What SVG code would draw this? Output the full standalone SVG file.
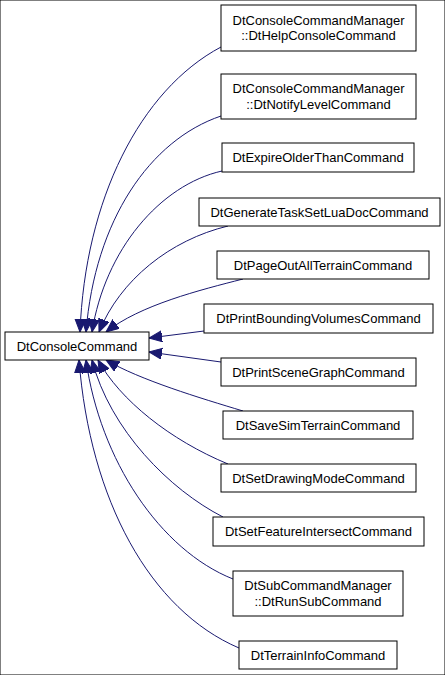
<svg xmlns="http://www.w3.org/2000/svg" width="445" height="675" viewBox="0 0 445 675">
<style>
rect{fill:#fff;stroke:#000;stroke-width:1}
text{font-family:"Liberation Sans",Arial,sans-serif;font-size:13px;fill:#000;text-anchor:middle}
.e{fill:none;stroke:#191970;stroke-width:1;marker-end:url(#a)}
</style>
<defs>
<marker id="a" markerUnits="userSpaceOnUse" markerWidth="14" markerHeight="12" refX="13" refY="5.5" orient="auto">
<path d="M0,0 L13,5.5 L0,11 Z" fill="#191970" stroke="#191970"/>
</marker>
</defs>
<rect width="445" height="675" fill="#fff" stroke="none"/>
<g id="edges">
<path class="e" d="M221,47 C140,90 85,200 80,332"/>
<path class="e" d="M221,116 C150,140 95,220 86,332"/>
<path class="e" d="M222,171 C160,185 105,250 92,332"/>
<path class="e" d="M228,226 C170,240 120,280 99,332"/>
<path class="e" d="M243,279 C200,290 140,305 106,332"/>
<path class="e" d="M204,331 L149,338"/>
<path class="e" d="M221,362 L149,352"/>
<path class="e" d="M243,411 C200,398 140,380 106,360"/>
<path class="e" d="M228,464 C170,440 120,400 98,360"/>
<path class="e" d="M223,517 C170,490 110,430 92,360"/>
<path class="e" d="M233,579 C160,550 100,460 86,360"/>
<path class="e" d="M239,648 C150,610 90,500 79,360"/>
</g>
<g id="DtConsoleCommand"><rect x="5" y="332" width="144" height="28"/><text x="77" y="350.5">DtConsoleCommand</text></g>
<g id="DtHelpConsoleCommand"><rect x="221" y="5" width="195" height="46"/><text x="318.5" y="24.5">DtConsoleCommandManager</text><text x="318.5" y="40">::DtHelpConsoleCommand</text></g>
<g id="DtNotifyLevelCommand"><rect x="221" y="74" width="195" height="45"/><text x="318.5" y="93">DtConsoleCommandManager</text><text x="318.5" y="108.5">::DtNotifyLevelCommand</text></g>
<g id="DtExpireOlderThanCommand"><rect x="222" y="143" width="192" height="29"/><text x="318" y="162">DtExpireOlderThanCommand</text></g>
<g id="DtGenerateTaskSetLuaDocCommand"><rect x="199" y="198" width="241" height="28"/><text x="319.5" y="216.5">DtGenerateTaskSetLuaDocCommand</text></g>
<g id="DtPageOutAllTerrainCommand"><rect x="217" y="251" width="212" height="28"/><text x="323" y="269.5">DtPageOutAllTerrainCommand</text></g>
<g id="DtPrintBoundingVolumesCommand"><rect x="204" y="304" width="229" height="29"/><text x="318.5" y="323">DtPrintBoundingVolumesCommand</text></g>
<g id="DtPrintSceneGraphCommand"><rect x="221" y="358" width="195" height="28"/><text x="318.5" y="376.5">DtPrintSceneGraphCommand</text></g>
<g id="DtSaveSimTerrainCommand"><rect x="223" y="411" width="190" height="28"/><text x="318" y="429.5">DtSaveSimTerrainCommand</text></g>
<g id="DtSetDrawingModeCommand"><rect x="221" y="464" width="195" height="28"/><text x="318.5" y="482.5">DtSetDrawingModeCommand</text></g>
<g id="DtSetFeatureIntersectCommand"><rect x="213" y="517" width="211" height="29"/><text x="318.5" y="536">DtSetFeatureIntersectCommand</text></g>
<g id="DtRunSubCommand"><rect x="233" y="571" width="170" height="45"/><text x="318" y="590">DtSubCommandManager</text><text x="318" y="605.5">::DtRunSubCommand</text></g>
<g id="DtTerrainInfoCommand"><rect x="239" y="641" width="158" height="28"/><text x="318" y="659.5">DtTerrainInfoCommand</text></g>
</svg>
